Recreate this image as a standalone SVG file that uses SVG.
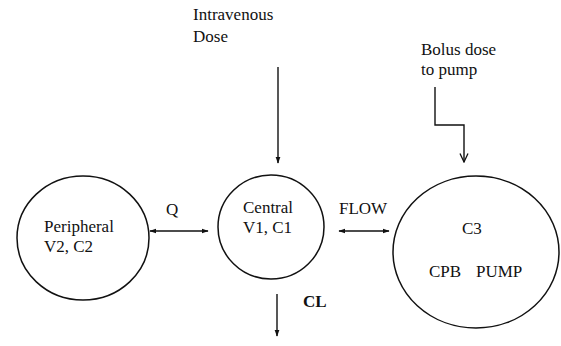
<svg xmlns="http://www.w3.org/2000/svg" width="561" height="346" viewBox="0 0 561 346">
<style>
text{font-family:"Liberation Serif","Times New Roman",serif;font-size:17px;fill:#111}
.node{fill:#fff;stroke:#111;stroke-width:1.5}
.edge{fill:none;stroke:#111;stroke-width:1.4}
.b{font-weight:bold}
</style>
<defs>
<marker id="ah" viewBox="0 0 10 10" refX="9" refY="5" markerWidth="7" markerHeight="7" orient="auto-start-reverse" markerUnits="userSpaceOnUse">
<path d="M0,1.5 L10,5 L0,8.5 Z" fill="#111"/>
</marker>
<marker id="open" viewBox="0 0 10 10" refX="9.5" refY="5" markerWidth="10" markerHeight="10" orient="auto" markerUnits="userSpaceOnUse">
<path d="M1,1 L9.5,5 L1,9" fill="none" stroke="#111" stroke-width="1.3"/>
</marker>
</defs>
<rect width="561" height="346" fill="#fff"/>
<g id="peripheral">
<ellipse class="node" cx="83" cy="238" rx="66" ry="62"/>
<text x="44" y="232">Peripheral</text>
<text x="44" y="252">V2, C2</text>
</g>
<g id="central">
<ellipse class="node" cx="271" cy="227" rx="53" ry="52"/>
<text x="243" y="213">Central</text>
<text x="243" y="233">V1, C1</text>
</g>
<g id="pump">
<ellipse class="node" cx="476" cy="252" rx="83" ry="76"/>
<text x="462" y="234">C3</text>
<text x="429" y="277">CPB</text>
<text x="476" y="277">PUMP</text>
</g>
<g id="labels">
<text x="193" y="20">Intravenous</text>
<text x="193" y="42">Dose</text>
<text x="421" y="55">Bolus dose</text>
<text x="421" y="75">to pump</text>
<text x="166" y="215">Q</text>
<text x="339" y="214">FLOW</text>
<text class="b" x="303" y="307">CL</text>
</g>
<g id="connectors">
<line class="edge" x1="278" y1="67" x2="278" y2="163" marker-end="url(#ah)"/>
<line class="edge" x1="150" y1="231" x2="208" y2="231" marker-start="url(#ah)" marker-end="url(#ah)"/>
<line class="edge" x1="339" y1="231" x2="389" y2="231" marker-start="url(#ah)" marker-end="url(#ah)"/>
<line class="edge" x1="277" y1="294" x2="277" y2="336" marker-end="url(#ah)"/>
<polyline class="edge" points="435,87 435,125 464,125 464,162" marker-end="url(#open)"/>
</g>
</svg>
